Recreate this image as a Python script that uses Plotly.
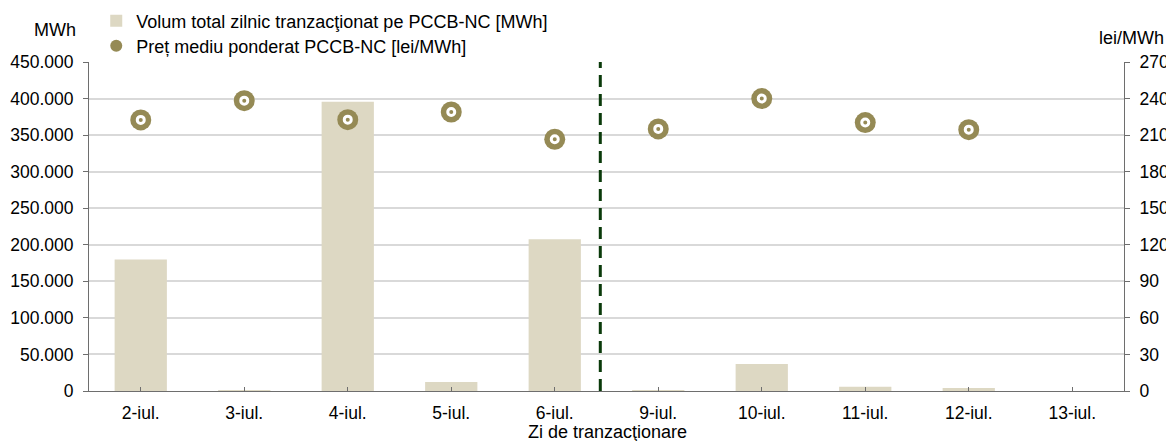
import plotly.graph_objects as go

days = ["2-iul.", "3-iul.", "4-iul.", "5-iul.", "6-iul.", "9-iul.", "10-iul.", "11-iul.", "12-iul.", "13-iul."]
volume_mwh = [180000, 1200, 395500, 12300, 207500, 1300, 37000, 5900, 4100, 0]
price_lei = [222.5, 238.3, 222.7, 229.0, 206.6, 215.1, 240.0, 220.3, 214.5, None]

BAR_COLOR = "#DDD8C3"
DOT_COLOR = "#958A55"
FONT = "Liberation Sans"
AXIS_COLOR = "#6E6E6E"

fig = go.Figure()
fig.add_trace(go.Bar(
    x=days, y=volume_mwh, name="Volum total zilnic tranzacţionat pe PCCB-NC [MWh]",
    marker=dict(color=BAR_COLOR, line=dict(width=0)), width=0.505,
    legend="legend", yaxis="y",
))
fig.add_trace(go.Scatter(
    x=days, y=price_lei, mode="markers", name="Preț mediu ponderat PCCB-NC [lei/MWh]",
    marker=dict(color=DOT_COLOR, size=21, line=dict(width=0)),
    legend="legend2", yaxis="y2",
))
fig.add_trace(go.Scatter(
    x=days, y=price_lei, mode="markers", showlegend=False, hoverinfo="skip",
    marker=dict(color=DOT_COLOR, size=7, line=dict(width=3, color="white")),
    yaxis="y2",
))

fig.add_shape(type="line", xref="x", yref="paper", x0=4.44, x1=4.44, y0=0, y1=1,
              line=dict(color="#0A3A0A", width=3, dash="12px,7px"))

legend_common = dict(xanchor="left", yanchor="middle", bgcolor="rgba(0,0,0,0)",
                     font=dict(size=18), itemsizing="constant")

# the page body adds an 8px margin, so the figure is laid out 8px smaller/offset
fig.update_layout(
    width=1166, height=433,
    margin=dict(l=81, r=50, t=54, b=50, autoexpand=False),
    paper_bgcolor="white", plot_bgcolor="white",
    separators=",.",
    font=dict(family=FONT, size=18, color="#000000"),
    showlegend=True,
    legend=dict(x=0.007, y=1.1246, **legend_common),
    legend2=dict(x=0.007, y=1.0486, **legend_common),
    xaxis=dict(type="category", showline=True, linecolor=AXIS_COLOR, linewidth=1,
               ticks="inside", ticklen=4, tickcolor=AXIS_COLOR, showgrid=False,
               tickfont=dict(size=17.5), range=[-0.5, 9.5], automargin=False,
               ticklabelstandoff=6),
    yaxis=dict(range=[0, 450000], dtick=50000, tickformat=",d", showline=True,
               linecolor=AXIS_COLOR, linewidth=1, ticks="outside", ticklen=5,
               tickcolor=AXIS_COLOR, showgrid=True, gridcolor="#D9D9D9", gridwidth=1.5,
               zeroline=False, tickfont=dict(size=17.5), ticklabelstandoff=6,
               automargin=False),
    yaxis2=dict(range=[0, 270], dtick=30, overlaying="y", side="right", showline=True,
                linecolor=AXIS_COLOR, linewidth=1, ticks="outside", ticklen=5,
                tickcolor=AXIS_COLOR, showgrid=False, zeroline=False,
                tickfont=dict(size=17.5), ticklabelstandoff=6, automargin=False),
    annotations=[
        dict(text="MWh", xref="paper", yref="paper", x=-0.0324, y=1.097,
             xanchor="center", yanchor="middle", showarrow=False, font=dict(size=18)),
        dict(text="lei/MWh", xref="paper", yref="paper", x=1.0068, y=1.073,
             xanchor="center", yanchor="middle", showarrow=False, font=dict(size=18)),
        dict(text="Zi de tranzacţionare", xref="paper", yref="paper", x=0.501, y=-0.1246,
             xanchor="center", yanchor="middle", showarrow=False, font=dict(size=18)),
    ],
)

fig.write_html("out.html")
